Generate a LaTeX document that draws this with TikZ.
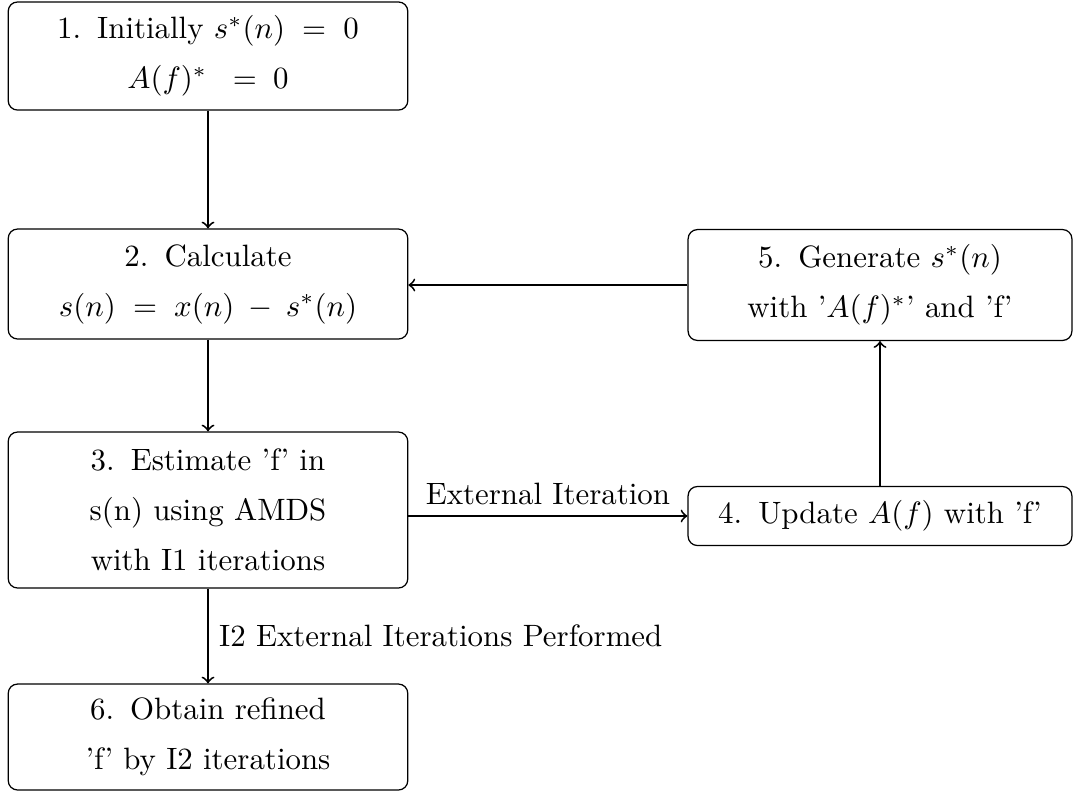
\documentclass[tikz,border=0pt]{standalone}
\usetikzlibrary{positioning}

\newcommand{\stepnum}[1]{#1.\hspace{5.2pt}}

\begin{document}
\begin{tikzpicture}[x=0.01138cm, y=-0.01138cm,
    block/.style={rectangle, rounded corners=3pt, draw, align=center, inner sep=0pt},
    flow/.style={->, semithick}]
    \useasboundingbox (0, 0) rectangle (1080, 792);

    \node[block, minimum width=129.4pt, minimum height=35pt] (init) at (208, 56) {\stepnum{1}Initially $s^*(n) \;=\; 0$ \\[4.2pt] $A(f)^*\hspace{8.3pt}{=}\hspace{5.3pt}0$};
    \node[block, minimum width=129.4pt, minimum height=35.6pt] (calc) at (208, 284) {\stepnum{2}Calculate \\[4.2pt] $s(n) \;=\; x(n) \:-\: s^*(n)$};
    \node[block, minimum width=129.4pt, minimum height=50.5pt] (est) at (208, 510) {\stepnum{3}Estimate 'f' in \\[4.2pt] s(n) using AMDS \\[4.2pt] with I1 iterations};
    \node[block, minimum width=129.4pt, minimum height=34.3pt] (refine) at (208, 737) {\stepnum{6}Obtain refined \\[4.2pt] 'f' by I2 iterations};
    \node[block, minimum width=124.3pt, minimum height=35.9pt] (gen) at (880, 285) {\stepnum{5}Generate $s^*(n)$ \\[4.2pt] with '$A(f)^*$' and 'f'};
    \node[block, minimum width=124.3pt, minimum height=19.1pt] (upd) at (880, 516) {\stepnum{4}Update $A(f)$ with 'f'};

    \draw[flow] (init) -- (calc);
    \draw[flow] (calc) -- (est);
    \draw[flow] (est.east |- upd.west) -- node[above] {External Iteration} (upd.west);
    \draw[flow] (upd) -- (gen);
    \draw[flow] (gen.west) -- (calc.east |- gen.west);
    \draw[flow] (est) -- node[right] {I2 External Iterations Performed} (refine);
\end{tikzpicture}
\end{document}
